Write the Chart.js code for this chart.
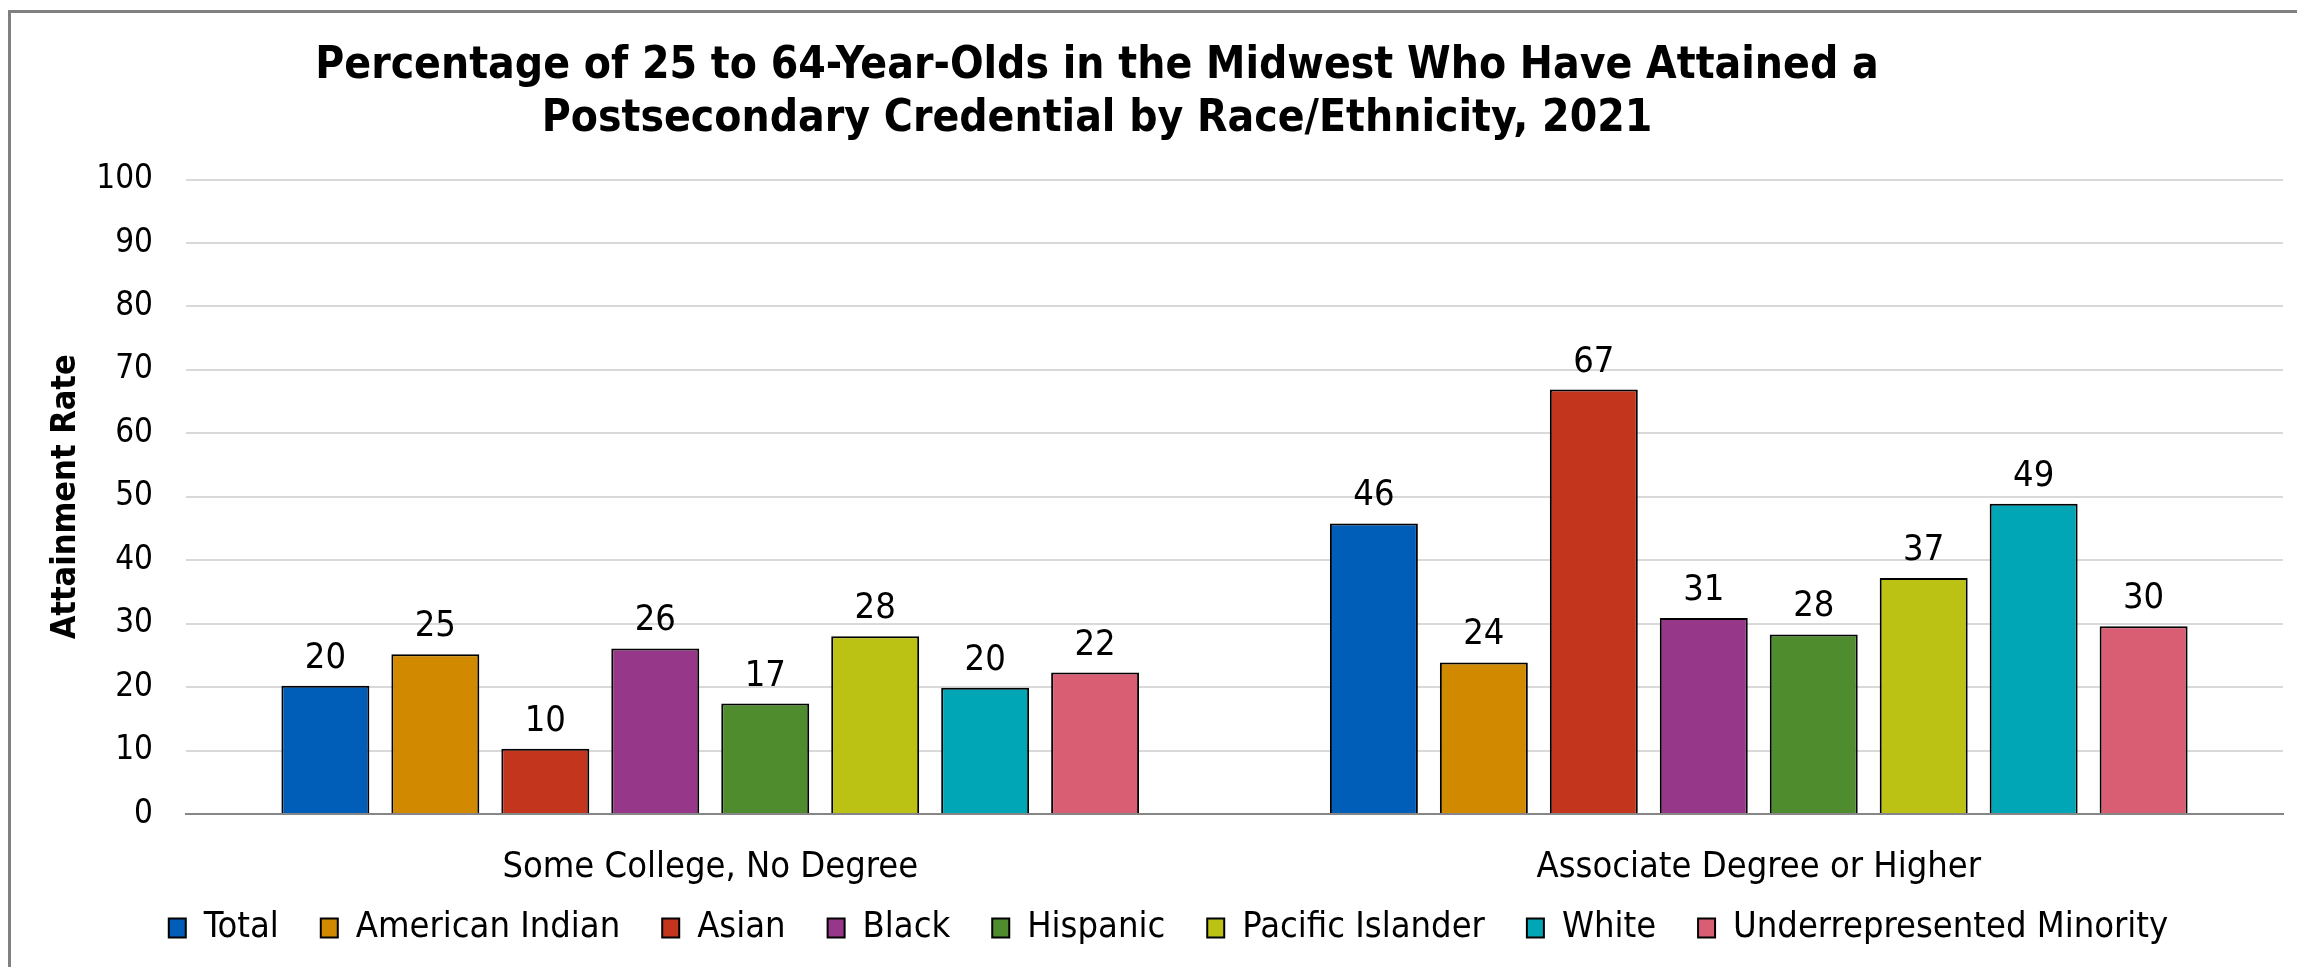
<!DOCTYPE html>
<html>
<head>
<meta charset="utf-8">
<title>Midwest Postsecondary Attainment 2021</title>
<script src="https://cdn.jsdelivr.net/npm/chart.js@4.4.1/dist/chart.umd.min.js"></script>
<style>
    html, body { margin: 0; padding: 0; background: #fff; overflow: hidden; }
    #wrap { position: relative; width: 2297px; height: 967px; }
    #frame { position: absolute; left: 8px; top: 10px; width: 2310px; height: 980px; border: 3px solid #808080; box-sizing: border-box; }
    #chart { position: absolute; left: 0; top: 0; }
</style>
</head>
<body>
<div id="wrap">
    <div id="frame"></div>
    <canvas id="chart" width="2297" height="967"></canvas>
</div>
<script>
const FONT = '"DejaVu Sans Condensed", "DejaVu Sans", sans-serif';

const categories = ['Some College, No Degree', 'Associate Degree or Higher'];
const races = ['Total', 'American Indian', 'Asian', 'Black', 'Hispanic', 'Pacific Islander', 'White', 'Underrepresented Minority'];
const raceColors = ['#005EB8', '#D18A00', '#C4351D', '#963789', '#4E8C2D', '#BCC213', '#00A6B5', '#D95E74'];
const someCollege = [20.2, 25.2, 10.3, 26.1, 17.4, 28.0, 19.9, 22.3];
const associatePlus = [45.8, 23.9, 66.9, 30.9, 28.3, 37.2, 48.9, 29.6];
const yTicks = [0, 10, 20, 30, 40, 50, 60, 70, 80, 90, 100];

const datasets = races.map((race, i) => ({
    label: race,
    data: [someCollege[i], associatePlus[i]],
    backgroundColor: raceColors[i],
    borderColor: '#000',
    borderWidth: 2,
    categoryPercentage: 0.839,
    barPercentage: 0.8
}));

// value labels above each bar (rounded like the source)
const barLabels = {
    id: 'barLabels',
    afterDatasetsDraw(chart) {
        const ctx = chart.ctx;
        ctx.save();
        ctx.font = '36px ' + FONT;
        ctx.fillStyle = '#000';
        ctx.textAlign = 'center';
        ctx.textBaseline = 'alphabetic';
        chart.data.datasets.forEach((ds, i) => {
            chart.getDatasetMeta(i).data.forEach((bar, j) => {
                ctx.fillText(Math.round(ds.data[j]), bar.x, bar.y - 18);
            });
        });
        ctx.restore();
    }
};

// small layout fixes: title sits left of centre, and the x labels
// must not be clipped by the short axis box
const layoutTweaks = {
    id: 'layoutTweaks',
    afterLayout(chart) {
        if (chart.titleBlock) chart.titleBlock.right -= 143;
        chart.scales.x.bottom += 40;
    }
};

new Chart(document.getElementById('chart'), {
    type: 'bar',
    data: { labels: categories, datasets: datasets },
    options: {
        responsive: false,
        animation: false,
        layout: { padding: { left: 54, right: 14, top: 0, bottom: 11 } },
        plugins: {
            title: {
                display: true,
                text: ['Percentage of 25 to 64-Year-Olds in the Midwest Who Have Attained a',
                       'Postsecondary Credential by Race/Ethnicity, 2021'],
                color: '#000',
                font: { family: FONT, size: 44, weight: 'bold', lineHeight: 1.2 },
                padding: { top: 40, bottom: 34 }
            },
            legend: {
                position: 'bottom',
                labels: {
                    color: '#000',
                    font: { family: FONT, size: 36 },
                    boxWidth: 17,
                    boxHeight: 19,
                    padding: 42
                }
            },
            tooltip: { enabled: false }
        },
        scales: {
            x: {
                grid: { display: false },
                border: { color: '#868686', width: 2 },
                ticks: { color: '#000', font: { family: FONT, size: 36 }, padding: 24 },
                afterFit: s => { s.height = 54; }
            },
            y: {
                min: 0,
                max: 100,
                afterBuildTicks: s => { s.ticks = yTicks.map(v => ({ value: v })); },
                grid: { color: '#d9d9d9', lineWidth: 2, drawTicks: false },
                border: { display: false },
                ticks: { color: '#000', font: { family: FONT, size: 33 }, padding: 33 },
                title: {
                    display: true,
                    text: 'Attainment Rate',
                    color: '#000',
                    font: { family: FONT, size: 34, weight: 'bold', lineHeight: 0.7 },
                    padding: 0
                },
                afterFit: s => { s.width = 132; }
            }
        }
    },
    plugins: [barLabels, layoutTweaks]
});
</script>
</body>
</html>
